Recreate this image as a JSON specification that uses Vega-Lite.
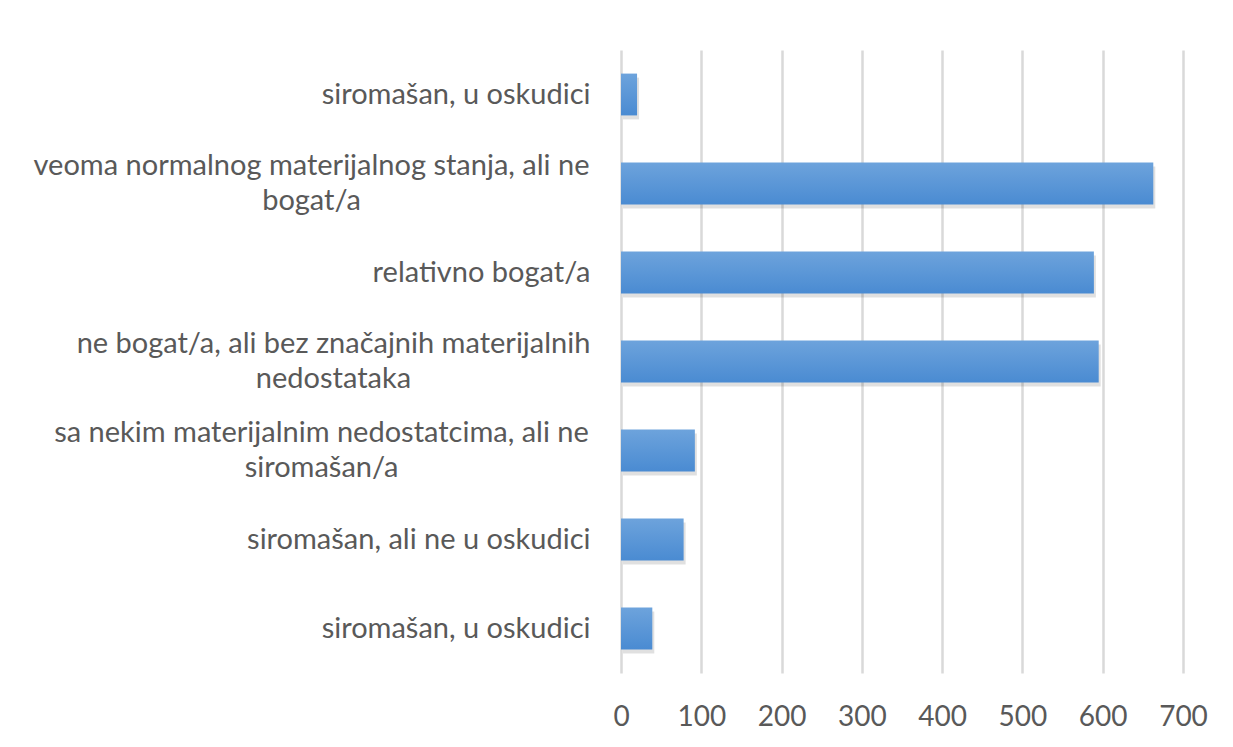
{
  "$schema": "https://vega.github.io/schema/vega-lite/v6.json",
  "autosize": {"type": "none"},
  "width": 562,
  "height": 623,
  "padding": {"left": 621, "top": 50, "right": 50, "bottom": 74},
  "background": "white",
  "config": {"view": {"stroke": null}},
  "data": {
    "values": [
      {"rank": 1, "value": 20},
      {"rank": 2, "value": 663},
      {"rank": 3, "value": 589},
      {"rank": 4, "value": 595},
      {"rank": 5, "value": 92},
      {"rank": 6, "value": 78},
      {"rank": 7, "value": 39}
    ]
  },
  "encoding": {
    "y": {
      "field": "rank", "type": "ordinal", "sort": "ascending",
      "scale": {"paddingInner": 0.53, "paddingOuter": 0.265},
      "axis": {
        "title": null, "domain": false, "ticks": false, "grid": false,
        "labelExpr": "[['siromašan, u oskudici'], ['veoma normalnog materijalnog stanja, ali ne', 'bogat/a'], ['relativno bogat/a'], ['ne bogat/a, ali bez značajnih materijalnih', 'nedostataka'], ['sa nekim materijalnim nedostatcima, ali ne', 'siromašan/a'], ['siromašan, ali ne u oskudici'], ['siromašan, u oskudici']][datum.value - 1]",
        "labelFont": "Lato", "labelFontSize": 29, "labelColor": "#595959",
        "labelLineHeight": 35, "labelLimit": 700,
        "labelAlign": {"condition": {"test": "datum.value == 2 || datum.value == 4 || datum.value == 5", "value": "center"}, "value": "right"},
        "labelOffset": {"condition": {"test": "datum.value == 2 || datum.value == 4 || datum.value == 5", "value": -17.5}, "value": 0},
        "labelPadding": {"condition": [
          {"test": "datum.value == 2", "value": 310},
          {"test": "datum.value == 4", "value": 288},
          {"test": "datum.value == 5", "value": 300}
        ], "value": 31}
      }
    },
    "x": {
      "field": "value", "type": "quantitative",
      "scale": {"domain": [0, 700], "nice": false},
      "axis": {
        "title": null, "domain": false, "ticks": false, "values": [0, 100, 200, 300, 400, 500, 600, 700],
        "grid": true, "gridColor": "#d9d9d9", "gridWidth": 2.5,
        "labelFont": "Lato", "labelFontSize": 28, "labelColor": "#595959",
        "labelPadding": 30, "labelFlush": false
      }
    }
  },
  "layer": [
    {
      "mark": {"type": "bar", "color": "#000000", "opacity": 0.12, "xOffset": 2, "yOffset": 4}
    },
    {
      "mark": {
        "type": "bar",
        "color": {
          "gradient": "linear", "x1": 0, "y1": 0, "x2": 0, "y2": 1,
          "stops": [{"offset": 0, "color": "#6da3dc"}, {"offset": 1, "color": "#4a8bd2"}]
        }
      }
    }
  ]
}
